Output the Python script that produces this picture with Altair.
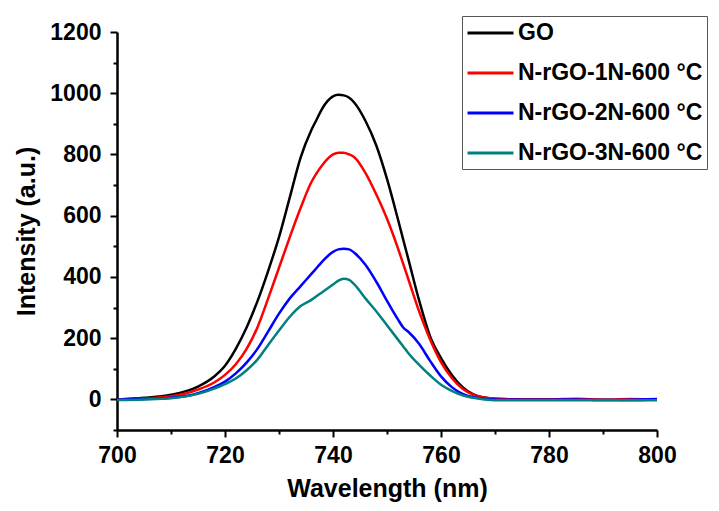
import altair as alt
import pandas as pd

wavelength = [700, 705, 710, 715, 718, 720, 722, 724, 726, 728, 730, 732, 734, 736, 737, 738,
              740, 741, 742, 743, 744, 746, 748, 750, 752, 753, 754, 756, 758, 760, 762, 764,
              766, 768, 770, 775, 780, 785, 790, 795, 800]

go = [0, 5, 15, 42, 75, 110, 165, 235, 320, 420, 530, 660, 790, 880, 915, 950,
      990, 995, 993, 985, 968, 910, 830, 720, 590, 522, 455, 320, 205, 135, 80, 40,
      16, 6, 2, 0, 0, -1, -1, -2, 0]

n1 = [0, 3, 10, 32, 55, 80, 115, 165, 235, 330, 430, 530, 625, 710, 740, 765,
      800, 806, 806, 800, 790, 740, 670, 590, 495, 443, 390, 285, 195, 122, 70, 35,
      15, 6, 2, 0, 0, 2, -1, 1, -1]

n2 = [0, 1, 5, 20, 40, 58, 85, 120, 165, 222, 280, 330, 370, 410, 430, 450,
      482, 490, 492, 490, 478, 440, 385, 322, 262, 235, 220, 180, 125, 75, 40, 18,
      7, 2, 0, -1, -1, 0, -2, -1, 1]

n3 = [-2, 0, 4, 18, 35, 50, 68, 95, 130, 178, 225, 270, 305, 325, 338, 350,
      375, 388, 394, 390, 375, 330, 288, 242, 196, 173, 150, 112, 78, 48, 28, 13,
      5, 0, -3, -3, -3, -3, -3, -3, -3]

series_names = ["GO", "N-rGO-1N-600 °C", "N-rGO-2N-600 °C", "N-rGO-3N-600 °C"]
series_colors = ["#000000", "#ff0000", "#0000ff", "#008080"]

rows = []
for name, vals in zip(series_names, [go, n1, n2, n3]):
    for w, v in zip(wavelength, vals):
        rows.append({"Wavelength": w, "Intensity": v, "Sample": name})
df = pd.DataFrame(rows)

FONT = "Liberation Sans"

x_ticks = list(range(700, 801, 10))
y_ticks = list(range(-100, 1201, 100))

chart = alt.Chart(df).mark_line(strokeWidth=2.5, interpolate="monotone").encode(
    x=alt.X("Wavelength:Q",
            scale=alt.Scale(domain=[700, 800], nice=False, zero=False),
            axis=alt.Axis(title="Wavelength (nm)", values=x_ticks, format="d",
                          labelExpr="datum.value % 20 === 0 ? datum.label : ''",
                          tickSize={"condition": {"test": "datum.value % 20 === 0", "value": 7}, "value": 4},
                          labelPadding=7, titlePadding=9, grid=False)),
    y=alt.Y("Intensity:Q",
            scale=alt.Scale(domain=[-100, 1200], nice=False, zero=False),
            axis=alt.Axis(title="Intensity (a.u.)", values=y_ticks, format="d",
                          labelExpr="datum.value % 200 === 0 ? datum.label : ''",
                          tickSize={"condition": {"test": "datum.value % 200 === 0", "value": 7}, "value": 4},
                          labelPadding=9, titlePadding=10, grid=False)),
    color=alt.Color("Sample:N",
                    scale=alt.Scale(domain=series_names, range=series_colors),
                    sort=series_names,
                    legend=alt.Legend(title=None, orient="none", legendX=345, legendY=-16,
                                      symbolType="M-1,0H3", symbolSize=529, symbolStrokeWidth=3,
                                      labelFont=FONT, labelFontSize=23, labelFontWeight="bold",
                                      labelColor="#000000", labelOffset=26, labelLimit=400,
                                      strokeColor="#555555", padding=4, rowPadding=15,
                                      fillColor="#ffffff")),
    detail="Sample:N",
).properties(
    width=540,
    height=398,
    autosize=alt.AutoSizeParams(type="none"),
    padding={"left": 109, "top": 24, "right": 54, "bottom": 73},
).configure_view(
    stroke=None
).configure_axis(
    domainColor="#000000", domainWidth=2.5, tickColor="#000000", tickWidth=2,
    labelFont=FONT, labelFontSize=23, labelFontWeight="bold", labelColor="#000000",
    titleFont=FONT, titleFontSize=25, titleFontWeight="bold", titleColor="#000000",
    labelFlush=False, labelOverlap=False
)

chart.save("out.html", embed_options={"renderer": "svg", "actions": False})
